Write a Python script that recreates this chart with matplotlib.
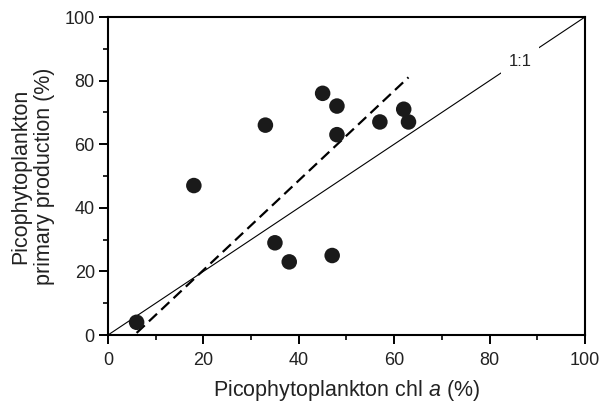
import numpy as np
import matplotlib
matplotlib.use("Agg")
import matplotlib.pyplot as plt

plt.rcParams["font.family"] = ["Liberation Sans", "DejaVu Sans"]
plt.rcParams["mathtext.fontset"] = "custom"
plt.rcParams["mathtext.it"] = "Liberation Sans:italic"
plt.rcParams["mathtext.rm"] = "Liberation Sans"

# Picophytoplankton contribution (%)
chl_pct = [6, 18, 33, 35, 38, 45, 47, 48, 48, 57, 62, 63]
pp_pct = [4, 47, 66, 29, 23, 76, 25, 72, 63, 67, 71, 67]

# fitted line (model II regression)
fit_slope = 1.41
fit_intercept = -7.8

one_to_one = [0, 100]

fig = plt.figure(figsize=(6.04, 4.05), dpi=100)
ax = fig.add_axes([0.1788, 0.1728, 0.7897, 0.7852])

# 1:1 line with label sitting in a gap
ax.plot(one_to_one, one_to_one, color="black", lw=0.8, zorder=1)
ax.text(86.4, 86.0, "1:1", fontsize=12, ha="center", va="center", color="#222222",
        bbox=dict(facecolor="white", edgecolor="none", pad=5.5), zorder=2)

# regression line over the data range
xf = np.array([min(chl_pct), max(chl_pct)])
ax.plot(xf, fit_slope * xf + fit_intercept, color="black", lw=1.6,
        dashes=(5, 2.6), zorder=3)

ax.scatter(chl_pct, pp_pct, s=125, color="#1a1a1a", edgecolor="none", zorder=4)

ax.set_xlim(0, 100)
ax.set_ylim(0, 100)
ax.set_xticks(range(0, 101, 20))
ax.set_yticks(range(0, 101, 20))
ax.set_xticks(range(10, 100, 20), minor=True)
ax.set_yticks(range(10, 100, 20), minor=True)
ax.tick_params(which="major", length=6.5, width=1.4, labelsize=13, pad=3,
               labelcolor="#222222")
ax.tick_params(axis="x", which="major", pad=6)
ax.tick_params(which="minor", length=3.8, width=1.2)
for s in ax.spines.values():
    s.set_linewidth(1.5)

ax.set_xlabel(r"Picophytoplankton chl $\mathit{a}$ (%)", fontsize=15.5,
              labelpad=6, color="#222222")
ax.set_ylabel("Picophytoplankton\nprimary production (%)", fontsize=15.5,
              labelpad=7, linespacing=1.15, color="#222222")

fig.savefig("out.png", dpi=100)
